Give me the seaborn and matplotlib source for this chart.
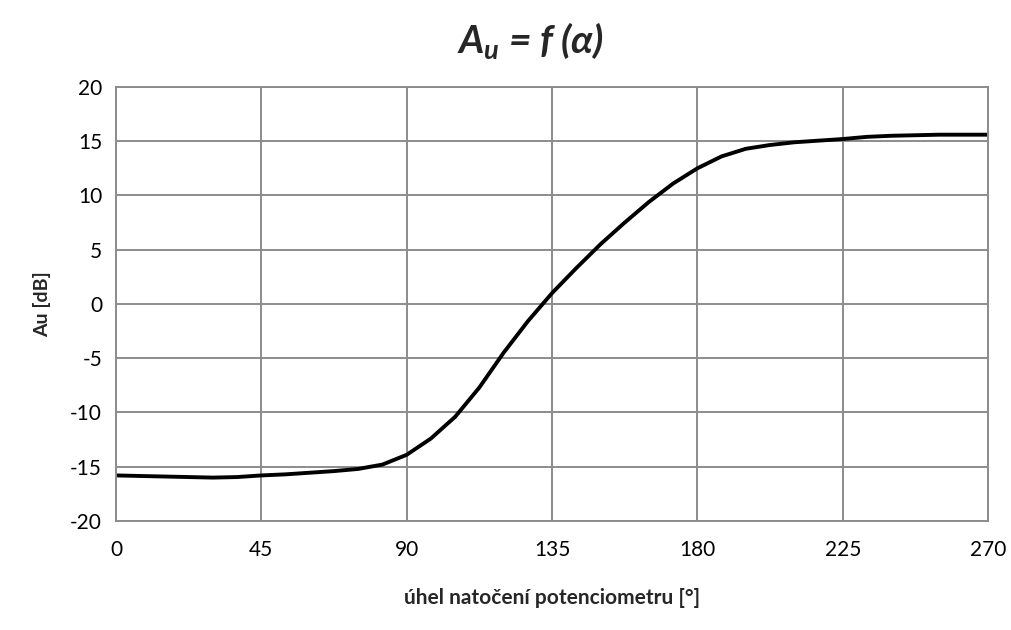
import numpy as np
import pandas as pd
import matplotlib
matplotlib.use("Agg")
import matplotlib.pyplot as plt
import seaborn as sns

# Data (angle in degrees, gain in dB)
uhel = [0, 7.5, 15, 22.5, 30, 37.5, 45, 52.5, 60, 67.5, 75, 82.5, 90, 97.5, 105, 112.5,
        120, 127.5, 135, 142.5, 150, 157.5, 165, 172.5, 180, 187.5, 195, 202.5, 210,
        217.5, 225, 232.5, 240, 247.5, 255, 262.5, 270]
au_db = [-15.8, -15.85, -15.9, -15.95, -16.0, -15.95, -15.8, -15.7, -15.55, -15.4, -15.2,
         -14.8, -13.9, -12.4, -10.4, -7.7, -4.5, -1.6, 1.0, 3.3, 5.5, 7.5, 9.4, 11.1,
         12.5, 13.6, 14.3, 14.65, 14.9, 15.05, 15.2, 15.4, 15.5, 15.55, 15.6, 15.6, 15.6]

x_ticks = [0, 45, 90, 135, 180, 225, 270]
y_ticks = [-20, -15, -10, -5, 0, 5, 10, 15, 20]

df = pd.DataFrame({"uhel": uhel, "au": au_db})

sns.set_theme(style="white")
plt.rcParams["font.family"] = ["Lato", "Open Sans", "DejaVu Sans"]
plt.rcParams["axes.unicode_minus"] = False
plt.rcParams["mathtext.fontset"] = "custom"
plt.rcParams["mathtext.it"] = "Lato:bold:italic"
plt.rcParams["mathtext.rm"] = "Lato:bold:italic"

fig = plt.figure(figsize=(10.11, 6.3), dpi=100)
ax = fig.add_axes([0.1147, 0.173, 0.8626, 0.689])

sns.lineplot(data=df, x="uhel", y="au", color="black", linewidth=2.8, ax=ax,
             solid_joinstyle="round", solid_capstyle="round")

ax.set_xlim(0, 270)
ax.set_ylim(-20, 20)
ax.set_xticks(x_ticks)
ax.set_yticks(y_ticks)
ax.grid(True, color="#8c8c8c", linewidth=1.4)
ax.set_axisbelow(True)
for s in ax.spines.values():
    s.set_color("#8c8c8c")
    s.set_linewidth(1.4)
ax.tick_params(axis="both", length=0, labelsize=15, colors="black", pad=10)
ax.tick_params(axis="x", pad=14)

ax.set_xlabel("úhel natočení potenciometru [°]", fontsize=15, fontweight="bold", labelpad=20)
ax.set_ylabel("Au [dB]", fontsize=14, fontweight="bold", labelpad=14)

fig.text(0.5245, 0.935, r"$A_u$ = f (α)", ha="center", va="center",
         fontsize=28, fontweight="bold", fontstyle="italic")

fig.savefig("out.png", dpi=100)
